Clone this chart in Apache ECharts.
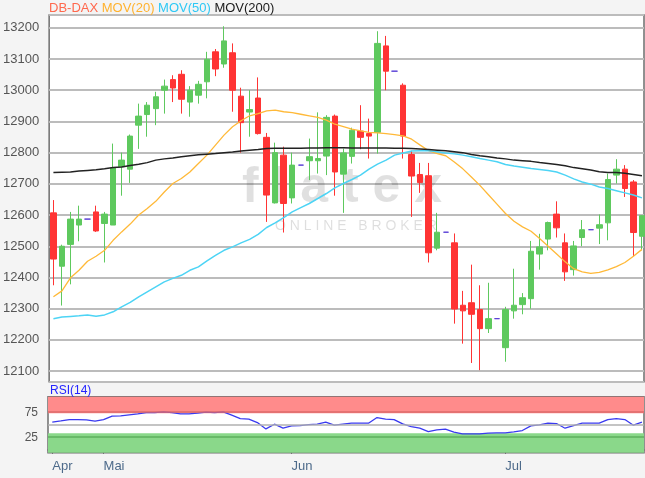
<!DOCTYPE html>
<html>
<head>
<meta charset="utf-8">
<script src="https://cdn.jsdelivr.net/npm/echarts@6/dist/echarts.min.js"></script>
<style>
html,body{margin:0;padding:0;background:#f4f4f4;}
#c{width:645px;height:478px;}
</style>
</head>
<body>
<div id="c"></div>
<script>
// ---- data (trading-day index 0..69) ----
const monthTickIdx = [0, 6, 28, 53];
const monthLabels = ['Apr', 'Mai', 'Jun', 'Jul'];

const openP  = [12607,12436,12506,12568,12587,12610,12573,12568,12755,12747,
                12888,12922,12941,13000,13034,13051,12962,12984,13027,13123,
                13084,13120,12981,12930,12975,12849,12639,12792,12655,12760,
                12774,12774,12789,12917,12731,12788,12869,12861,12865,13142,
                13061,13016,12794,12730,12726,12494,12545,12511,12311,12319,
                12297,12236,12268,12175,12293,12313,12332,12475,12523,12603,
                12511,12425,12528,12553,12558,12575,12728,12747,12706,12532];
const closeP = [12459,12500,12587,12587,12587,12549,12603,12751,12776,12853,
                12917,12952,12979,13013,13007,12971,13000,13019,13099,13068,
                13158,13000,12896,12938,12861,12664,12800,12637,12760,12760,
                12787,12781,12913,12738,12799,12872,12849,12853,13150,13061,
                13061,12853,12725,12704,12479,12545,12545,12299,12293,12282,
                12236,12268,12268,12297,12311,12335,12484,12498,12576,12559,
                12418,12501,12553,12553,12569,12714,12747,12685,12544,12598];
const lowP   = [12375,12310,12378,12516,12587,12546,12448,12568,12662,12703,
                12812,12851,12888,12925,12962,12925,12915,12957,12974,13045,
                13072,12931,12800,12851,12858,12578,12637,12544,12637,12760,
                12712,12733,12728,12662,12607,12765,12811,12781,12797,13000,
                13061,12781,12594,12671,12448,12487,12545,12252,12188,12126,
                12103,12222,12268,12130,12268,12282,12300,12425,12487,12528,
                12389,12406,12500,12553,12507,12519,12701,12658,12468,12487];
const highP  = [12648,12505,12610,12630,12587,12630,12610,12829,12800,12858,
                12957,12962,12995,13034,13048,13064,13013,13030,13123,13132,
                13205,13150,13008,13000,13041,12863,12832,12819,12800,12760,
                12845,12929,12920,12922,12813,12880,12952,12909,13189,13174,
                13061,13022,12806,12767,12767,12607,12545,12541,12357,12441,
                12375,12383,12268,12306,12428,12350,12517,12540,12579,12644,
                12541,12517,12584,12553,12602,12733,12779,12760,12712,12600];

const ma20  = [12338,12357,12399,12423,12452,12468,12487,12519,12546,12571,
               12600,12621,12644,12674,12701,12717,12738,12765,12792,12824,
               12856,12883,12902,12918,12925,12934,12936,12931,12928,12923,
               12918,12913,12904,12891,12883,12875,12870,12865,12863,12861,
               12858,12854,12843,12824,12806,12797,12790,12770,12748,12722,
               12695,12665,12635,12605,12580,12562,12548,12525,12500,12475,
               12450,12428,12418,12413,12416,12424,12435,12448,12468,12490];
const ma50  = [12268,12273,12275,12277,12280,12276,12280,12290,12306,12320,
               12338,12354,12370,12386,12397,12407,12423,12434,12453,12471,
               12487,12498,12511,12522,12538,12560,12575,12592,12610,12624,
               12637,12653,12669,12687,12701,12714,12728,12747,12763,12776,
               12792,12799,12805,12806,12806,12803,12799,12796,12792,12787,
               12781,12776,12771,12762,12757,12753,12749,12746,12743,12738,
               12728,12716,12706,12699,12690,12685,12678,12671,12664,12655];
const ma200 = [12736,12737,12738,12741,12743,12745,12748,12752,12754,12759,
               12763,12768,12776,12780,12783,12787,12790,12793,12795,12797,
               12800,12802,12805,12808,12810,12813,12814,12814,12814,12814,
               12815,12815,12816,12816,12816,12815,12815,12815,12815,12815,
               12814,12814,12813,12812,12810,12808,12806,12803,12800,12794,
               12790,12787,12783,12780,12776,12774,12772,12768,12765,12762,
               12758,12752,12748,12744,12739,12736,12736,12734,12730,12726];
const rsi14 = [55,57.6,60.3,60.3,59.6,57,60.3,67,67.6,69.6,
               71.6,74.3,74.3,75.6,74.3,71.6,71.6,73,75,74.3,
               75.6,69,62.3,61,54.3,41.6,51,43,47.6,48.3,
               50.3,51,55,49,51,53,53,53,64.3,61,
               60.3,51.6,46.3,43,36.3,39.6,41,35,31.6,31.6,
               31.6,33,33.6,33.6,35.6,38.3,47.6,49.6,53,52.3,
               43,48.3,53,53,53,60.3,62.3,60.3,49,55];
const rsiLabelValues = [25, 75];

// ---- chart ----
const candles = openP.map((o, i) => [i, o, closeP[i], lowP[i], highP[i]]);
const toXY = arr => arr.map((v, i) => [i, v]);
const FONT = '"Liberation Sans", Arial, sans-serif';
const xMin = -0.5, xMax = 69.24;

const chart = echarts.init(document.getElementById('c'), null, {renderer: 'canvas'});
chart.setOption({
  backgroundColor: '#f4f4f4',
  animation: false,
  textStyle: {fontFamily: FONT},
  title: [{
    left: 49, top: 1, padding: 0,
    text: '{a|DB-DAX} {b|MOV(20)} {c|MOV(50)} {d|MOV(200)}',
    textStyle: {
      fontSize: 13, fontWeight: 'normal', fontFamily: FONT, lineHeight: 15,
      rich: {
        a: {color: '#ff684d', fontSize: 13, fontFamily: FONT},
        b: {color: '#ffb22e', fontSize: 13, fontFamily: FONT},
        c: {color: '#2ec8f5', fontSize: 13, fontFamily: FONT},
        d: {color: '#1a1a1a', fontSize: 13, fontFamily: FONT}
      }
    }
  }, {
    left: 50, top: 384, padding: 0,
    text: 'RSI(14)',
    textStyle: {color: '#2424ff', fontSize: 12, fontWeight: 'normal', fontFamily: FONT, lineHeight: 14}
  }],
  graphic: [{
    type: 'text', x: 342, y: 188, z: 1, silent: true,
    style: {text: 'f l a t e x', align: 'center', verticalAlign: 'middle',
            font: 'bold 50px "Liberation Sans", Arial', fill: 'rgba(0,0,0,0.12)'}
  }, {
    type: 'text', x: 356, y: 226, z: 1, silent: true,
    style: {text: 'O N L I N E   B R O K E R', align: 'center', verticalAlign: 'middle',
            font: '14px "Liberation Sans", Arial', fill: 'rgba(0,0,0,0.13)'}
  }],
  grid: [
    {left: 48, right: 1, top: 15, height: 366.7, show: true, backgroundColor: '#ffffff',
     borderColor: '#6e6e6e', borderWidth: 1.5},
    {left: 48, right: 1, top: 396.7, height: 56, show: true, backgroundColor: '#ffffff',
     borderColor: '#6e6e6e', borderWidth: 1.5}
  ],
  xAxis: [
    {type: 'value', gridIndex: 0, min: xMin, max: xMax, show: false},
    {type: 'value', gridIndex: 1, min: xMin, max: xMax,
     axisLine: {show: true, lineStyle: {color: '#6e6e6e', width: 1.5}},
     splitLine: {show: false},
     axisTick: {show: true, customValues: monthTickIdx, length: 4, lineStyle: {color: '#555'}},
     axisLabel: {customValues: monthTickIdx, align: 'left', margin: 7,
                 color: '#4d6a8a', fontSize: 13, fontFamily: FONT,
                 formatter: v => monthLabels[monthTickIdx.indexOf(v)] || ''}}
  ],
  yAxis: [
    {type: 'value', gridIndex: 0, min: 12066, max: 13241, minInterval: 100, maxInterval: 100, splitNumber: 12,
     axisLine: {show: false}, axisTick: {show: false},
     splitLine: {show: true, lineStyle: {color: '#bcbcbc', width: 2}},
     axisLabel: {color: '#555', fontSize: 13, fontFamily: FONT, margin: 10,
                 formatter: v => (v % 100 === 0 ? String(v) : '')}},
    {type: 'value', gridIndex: 1, min: -6, max: 106,
     axisLine: {show: false}, axisTick: {show: false}, splitLine: {show: false},
     axisLabel: {customValues: rsiLabelValues, color: '#555', fontSize: 12, fontFamily: FONT, margin: 10}}
  ],
  series: [
    {
      type: 'candlestick', xAxisIndex: 0, yAxisIndex: 0, data: candles, barWidth: 6,
      itemStyle: {color: '#5ec95e', color0: '#ff3434', borderColor: '#5ec95e', borderColor0: '#ff3434',
                  borderColorDoji: '#5a3fd6', borderWidth: 1}
    },
    {type: 'line', xAxisIndex: 0, yAxisIndex: 0, data: toXY(ma20), showSymbol: false, symbol: 'none',
     lineStyle: {color: '#ffb938', width: 1.3}, z: 3},
    {type: 'line', xAxisIndex: 0, yAxisIndex: 0, data: toXY(ma50), showSymbol: false, symbol: 'none',
     lineStyle: {color: '#4dd4f5', width: 1.5}, z: 3},
    {type: 'line', xAxisIndex: 0, yAxisIndex: 0, data: toXY(ma200), showSymbol: false, symbol: 'none',
     lineStyle: {color: '#222222', width: 1.5}, z: 3},
    {
      type: 'line', xAxisIndex: 1, yAxisIndex: 1, data: toXY(rsi14), showSymbol: false, symbol: 'none',
      lineStyle: {color: '#3a3af0', width: 1.3}, z: 4,
      markArea: {silent: true, data: [
        [{yAxis: 73, itemStyle: {color: '#ff8b8b'}}, {yAxis: 106}],
        [{yAxis: -6, itemStyle: {color: '#8ad88a'}}, {yAxis: 33}]
      ]},
      markLine: {silent: true, symbol: ['none', 'none'], label: {show: false},
        lineStyle: {type: 'solid', width: 1.5},
        data: [
          {yAxis: 75, lineStyle: {color: '#dc6a6a', type: 'solid', width: 1.5}},
          {yAxis: 50, lineStyle: {color: '#b0b0b0', type: 'solid', width: 1.5}},
          {yAxis: 25, lineStyle: {color: '#5cb05c', type: 'solid', width: 1.5}}
        ]}
    }
  ]
});
</script>
</body>
</html>
